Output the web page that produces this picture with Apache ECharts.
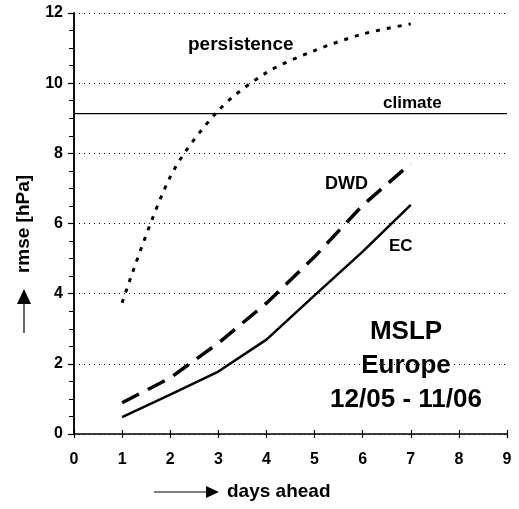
<!DOCTYPE html>
<html>
<head>
<meta charset="utf-8">
<script src="https://cdn.jsdelivr.net/npm/echarts@6/dist/echarts.min.js"></script>
<style>
html,body{margin:0;padding:0;background:#fff;}
#main{width:519px;height:509px;}
</style>
</head>
<body>
<div id="main"></div>
<script>
// days ahead
var days = [1, 2, 3, 4, 5, 6, 7];
// rmse [hPa]
var ecValues = [0.48, 1.12, 1.78, 2.69, 3.95, 5.2, 6.53];
var dwdValues = [0.89, 1.6, 2.59, 3.73, 5.05, 6.52, 7.71];
var persistenceValues = [3.74, 7.33, 9.22, 10.3, 10.93, 11.4, 11.69];
var climateValue = 9.13;
var xTicks = [0, 1, 2, 3, 4, 5, 6, 7, 8, 9];
var yTicks = [0, 2, 4, 6, 8, 10, 12];

var FONT = "Liberation Sans, Arial, sans-serif";

function pairs(xs, ys) {
    var out = [];
    for (var i = 0; i < xs.length; i++) {
        out.push([xs[i], ys[i]]);
    }
    return out;
}

function label(text, x, y, size, align) {
    return {
        type: "text", x: x, y: y,
        style: { text: text, font: "bold " + size + "px " + FONT, fill: "#000", align: align || "left", verticalAlign: "middle" }
    };
}

var myChart = echarts.init(document.getElementById("main"));

var xMin = xTicks[0], xMax = xTicks[xTicks.length - 1];
var yMin = yTicks[0], yMax = yTicks[yTicks.length - 1];

var option = {
    backgroundColor: "#fff",
    animation: false,
    grid: { left: 74, right: 12, top: 13, bottom: 75, containLabel: false },
    xAxis: [
        {
            type: "value", min: xMin, max: xMax, interval: 1,
            axisLine: { onZero: false, lineStyle: { color: "#000", width: 1.5 } },
            axisTick: { show: true, inside: false, length: 4, lineStyle: { color: "#000", width: 1.2 } },
            axisLabel: { color: "#000", fontFamily: FONT, fontWeight: "bold", fontSize: 16, margin: 18 },
            splitLine: { show: false }
        },
        {
            // inner half of the crossing ticks
            type: "value", position: "bottom", min: xMin, max: xMax, interval: 1,
            axisLine: { show: false },
            axisTick: { show: true, inside: true, length: 4, lineStyle: { color: "#000", width: 1.2 } },
            axisLabel: { show: false },
            splitLine: { show: false }
        }
    ],
    yAxis: [
        {
            type: "value", min: yMin, max: yMax, interval: 2,
            axisLine: { show: true, lineStyle: { color: "#000", width: 1.5 } },
            axisTick: { show: true, length: 6, lineStyle: { color: "#000", width: 1.2 } },
            minorTick: { show: true, splitNumber: 4, length: 5, lineStyle: { color: "#000", width: 1 } },
            axisLabel: { color: "#000", fontFamily: FONT, fontWeight: "bold", fontSize: 16, margin: 11 },
            splitLine: { show: true, lineStyle: { color: "#000", type: [1, 4], width: 1 } }
        },
        {
            // right frame line
            type: "value", position: "right", min: yMin, max: yMax, interval: 2,
            axisLine: { show: true, lineStyle: { color: "#000", width: 1.5 } },
            axisTick: { show: false },
            axisLabel: { show: false },
            splitLine: { show: false }
        }
    ],
    series: [
        {
            name: "climate",
            type: "line",
            data: [[xMin, climateValue], [xMax, climateValue]],
            symbol: "none",
            lineStyle: { color: "#000", width: 1.2 },
            z: 3
        },
        {
            name: "persistence",
            type: "line",
            data: pairs(days, persistenceValues),
            symbol: "none",
            smooth: 0.3,
            lineStyle: { color: "#000", width: 3, type: [4, 7], cap: "butt" }
        },
        {
            name: "DWD",
            type: "line",
            data: pairs(days, dwdValues),
            symbol: "none",
            lineStyle: { color: "#000", width: 3.5, type: [19, 10], cap: "butt" }
        },
        {
            name: "EC",
            type: "line",
            data: pairs(days, ecValues),
            symbol: "none",
            lineStyle: { color: "#000", width: 2.5 }
        }
    ],
    graphic: [
        label("persistence", 188, 45, 19),
        label("climate", 383, 103, 17),
        label("DWD", 325, 184, 18),
        label("EC", 389, 246, 17),
        label("MSLP", 406, 332, 26, "center"),
        label("Europe", 406, 366, 26, "center"),
        label("12/05 - 11/06", 406, 400, 26, "center"),
        // y axis title with arrow
        { type: "text", x: 24, y: 224, rotation: Math.PI / 2,
          style: { text: "rmse [hPa]", font: "bold 19px " + FONT, fill: "#000", align: "center", verticalAlign: "middle" } },
        { type: "line", shape: { x1: 24, y1: 333, x2: 24, y2: 302 }, style: { stroke: "#000", lineWidth: 1.2 } },
        { type: "polygon", shape: { points: [[24, 289], [17, 304], [31, 304]] }, style: { fill: "#000" } },
        // x axis title with arrow
        { type: "line", shape: { x1: 154, y1: 492, x2: 208, y2: 492 }, style: { stroke: "#000", lineWidth: 1.2 } },
        { type: "polygon", shape: { points: [[219, 492], [206, 486], [206, 498]] }, style: { fill: "#000" } },
        label("days ahead", 227, 492, 19)
    ]
};

myChart.setOption(option);
</script>
</body>
</html>
